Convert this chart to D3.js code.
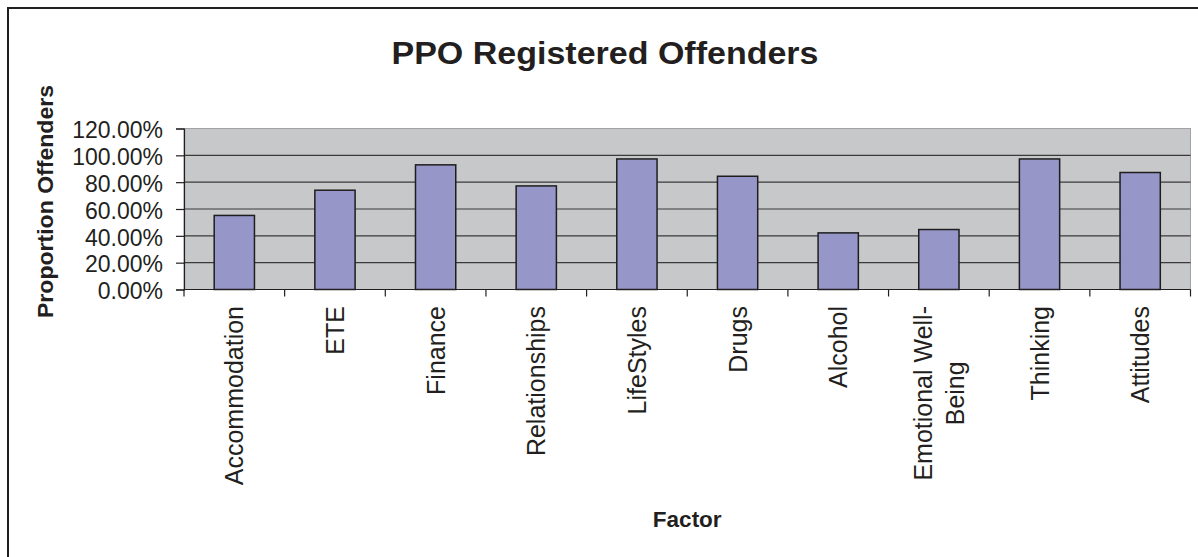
<!DOCTYPE html>
<html>
<head>
<meta charset="utf-8">
<script src="https://cdn.jsdelivr.net/npm/d3@7"></script>
<style>
  body { margin: 0; background: #fff; }
  svg { display: block; font-family: "Liberation Sans", Arial, sans-serif; }
</style>
</head>
<body>
<script>
var categories = ["Accommodation", "ETE", "Finance", "Relationships", "LifeStyles",
                  "Drugs", "Alcohol", "Emotional Well-Being", "Thinking", "Attitudes"];
var labelLines = [["Accommodation"], ["ETE"], ["Finance"], ["Relationships"], ["LifeStyles"],
                  ["Drugs"], ["Alcohol"], ["Emotional Well-", "Being"], ["Thinking"], ["Attitudes"]];
var values = [0.552, 0.74, 0.929, 0.772, 0.973, 0.844, 0.422, 0.447, 0.973, 0.872];
var yTicks = [0, 0.2, 0.4, 0.6, 0.8, 1.0, 1.2];

var width = 1198;
var height = 557;
var plot = { left: 184, right: 1190.5, top: 128.5, bottom: 289.5 };
var ink = "#231f20";

var svg = d3.select("body").append("svg")
            .attr("width", width)
            .attr("height", height);

// chart frame (runs past the right and bottom edges)
svg.append("rect")
   .attr("x", 8).attr("y", 8)
   .attr("width", width + 20).attr("height", height + 20)
   .attr("fill", "#fff")
   .attr("stroke", ink)
   .attr("stroke-width", 2);

var x = d3.scaleBand()
          .domain(categories)
          .range([plot.left, plot.right])
          .paddingInner(0.6)
          .paddingOuter(0.3);

var y = d3.scaleLinear()
          .domain([0, 1.2])
          .range([plot.bottom, plot.top]);

// plot area
svg.append("rect")
   .attr("x", plot.left).attr("y", plot.top)
   .attr("width", plot.right - plot.left)
   .attr("height", plot.bottom - plot.top)
   .attr("fill", "#c7c8ca")
   .attr("stroke", "#a3a3a5")
   .attr("stroke-width", 1);

// gridlines
svg.append("g").selectAll("line")
   .data(yTicks.filter(function (d) { return d > 0 && d < 1.2; }))
   .enter().append("line")
   .attr("x1", plot.left).attr("x2", plot.right)
   .attr("y1", function (d) { return y(d); })
   .attr("y2", function (d) { return y(d); })
   .attr("stroke", "#3a3a3a")
   .attr("stroke-width", 1.2);

// bars
svg.append("g").selectAll("rect")
   .data(values)
   .enter().append("rect")
   .attr("x", function (d, i) { return x(categories[i]); })
   .attr("y", function (d) { return y(d); })
   .attr("width", x.bandwidth())
   .attr("height", function (d) { return y(0) - y(d); })
   .attr("fill", "#9696c9")
   .attr("stroke", "#1e1e1e")
   .attr("stroke-width", 1.5);

// y axis
var yAxis = d3.axisLeft(y)
              .tickValues(yTicks)
              .tickFormat(function (d) { return (d * 100).toFixed(2) + "%"; })
              .tickSize(8)
              .tickPadding(13);

var gy = svg.append("g")
            .attr("transform", "translate(" + plot.left + ",0)")
            .call(yAxis);
gy.select(".domain").attr("stroke", ink).attr("stroke-width", 1.2);
gy.selectAll(".tick line").attr("stroke", ink).attr("stroke-width", 1.2);
gy.selectAll(".tick text")
  .attr("font-family", "'Liberation Sans', Arial, sans-serif")
  .attr("font-size", 23)
  .attr("fill", ink)
  .attr("dy", "0.4em");

// x axis line + boundary ticks
var xAxisG = svg.append("g");
xAxisG.append("line")
      .attr("x1", plot.left).attr("x2", plot.right)
      .attr("y1", plot.bottom).attr("y2", plot.bottom)
      .attr("stroke", ink).attr("stroke-width", 1.2);
var bounds = categories.map(function (c) { return x(c) - x.step() * x.paddingInner() / 2; });
bounds.push(plot.right);
xAxisG.selectAll("line.tk")
      .data(bounds)
      .enter().append("line")
      .attr("class", "tk")
      .attr("x1", function (d) { return d; })
      .attr("x2", function (d) { return d; })
      .attr("y1", plot.bottom)
      .attr("y2", plot.bottom + 7)
      .attr("stroke", ink)
      .attr("stroke-width", 1.2);

// category labels, rotated, top aligned
var labelTop = 306;
var lab = svg.append("g").selectAll("g")
             .data(labelLines)
             .enter().append("g");

lab.each(function (lines, i) {
  var g = d3.select(this);
  var cx = x(categories[i]) + x.bandwidth() / 2;
  var inner = g.append("g");
  var n = lines.length;
  lines.forEach(function (t, j) {
    inner.append("text")
         .attr("text-anchor", "middle")
         .attr("font-size", 25)
         .attr("fill", ink)
         .attr("y", ((j - (n - 1) / 2) * 1.28 + 0.36) + "em")
         .text(t);
  });
  var maxLen = d3.max(inner.selectAll("text").nodes(), function (nd) { return nd.getComputedTextLength(); });
  inner.attr("transform", "translate(" + cx + "," + (labelTop + maxLen / 2) + ") rotate(-90)");
});

// title
svg.append("text")
   .attr("x", 605).attr("y", 64)
   .attr("text-anchor", "middle")
   .attr("font-size", 31)
   .attr("font-weight", "bold")
   .attr("fill", ink)
   .attr("textLength", 427)
   .attr("lengthAdjust", "spacingAndGlyphs")
   .text("PPO Registered Offenders");

// y axis title
svg.append("text")
   .attr("transform", "translate(53,201.5) rotate(-90)")
   .attr("text-anchor", "middle")
   .attr("font-size", 22)
   .attr("font-weight", "bold")
   .attr("fill", ink)
   .attr("textLength", 233)
   .attr("lengthAdjust", "spacingAndGlyphs")
   .text("Proportion Offenders");

// x axis title
svg.append("text")
   .attr("x", (plot.left + plot.right) / 2).attr("y", 526.5)
   .attr("text-anchor", "middle")
   .attr("font-size", 22.5)
   .attr("font-weight", "bold")
   .attr("fill", ink)
   .text("Factor");
</script>
</body>
</html>
